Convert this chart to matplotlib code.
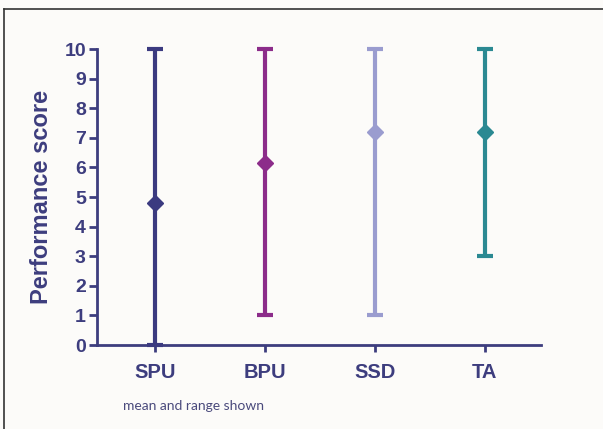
import matplotlib.pyplot as plt
from matplotlib.lines import Line2D

# datos
grupos = ['SPU', 'BPU', 'SSD', 'TA']
media = [4.8, 6.15, 7.2, 7.2]
minimo = [0, 1, 1, 3]
maximo = [10, 10, 10, 10]
colores = ['#3b3a80', '#8c2c8a', '#9a9ccf', '#2b8992']
yticks = list(range(0, 11))

azul = '#3d3d7e'
plt.rcParams['font.family'] = ['Liberation Sans', 'DejaVu Sans']

fig = plt.figure(figsize=(6.03, 4.29), dpi=100, facecolor='#fcfbf9')
ax = fig.add_axes([97/603, 1 - 345/429, 444/603, 296/429])
ax.set_facecolor('#fcfbf9')

for i, g in enumerate(grupos):
    err = [[media[i] - minimo[i]], [maximo[i] - media[i]]]
    ax.errorbar(i, media[i], yerr=err, fmt='D', color=colores[i], ms=8.5,
                elinewidth=3, capsize=5.5, capthick=3, clip_on=False, zorder=3)

ax.set_xlim(-0.527, 3.51)
ax.set_ylim(0, 10)
ax.set_yticks(yticks)
ax.set_xticks(range(len(grupos)))
ax.set_xticklabels(grupos)

for s in ['top', 'right']:
    ax.spines[s].set_visible(False)
for s in ['left', 'bottom']:
    ax.spines[s].set_color(azul)
    ax.spines[s].set_linewidth(2)

ax.tick_params(axis='y', colors=azul, width=2, length=6, labelsize=14, pad=2)
ax.tick_params(axis='x', colors=azul, width=2, length=5, labelsize=14.5, pad=8)
for t in ax.get_xticklabels() + ax.get_yticklabels():
    t.set_fontweight('bold')
    t.set_color(azul)

ax.set_ylabel('Performance score', fontsize=17, color=azul, fontweight='bold', labelpad=8)

fig.text(123/603, 1 - 406/429, 'mean and range shown', fontsize=10, color='#4a4a7c',
         family=['Lato', 'DejaVu Sans'], va='center')

# marco de la figura
fig.add_artist(Line2D([4/603, 4/603], [0, 1 - 9/429], transform=fig.transFigure, color='#333333', lw=1.2))
fig.add_artist(Line2D([4/603, 1], [1 - 9/429, 1 - 9/429], transform=fig.transFigure, color='#333333', lw=1.2))

fig.savefig('out.png', dpi=100, facecolor=fig.get_facecolor())
